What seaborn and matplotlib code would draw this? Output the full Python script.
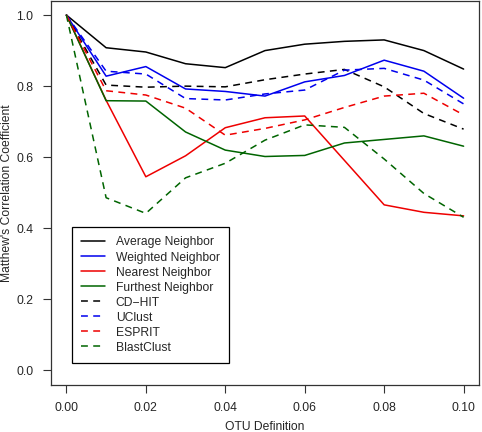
import matplotlib
matplotlib.use("Agg")
import matplotlib.pyplot as plt
import pandas as pd
import seaborn as sns

# OTU definition cutoffs
otu = [0.00, 0.01, 0.02, 0.03, 0.04, 0.05, 0.06, 0.07, 0.08, 0.09, 0.10]

average_neighbor = [1.0, 0.908, 0.896, 0.863, 0.852, 0.900, 0.918, 0.926, 0.930, 0.900, 0.848]
weighted_neighbor = [1.0, 0.828, 0.855, 0.792, 0.785, 0.772, 0.812, 0.830, 0.873, 0.842, 0.766]
nearest_neighbor = [1.0, 0.760, 0.545, 0.604, 0.683, 0.711, 0.716, 0.591, 0.466, 0.445, 0.435]
furthest_neighbor = [1.0, 0.759, 0.758, 0.671, 0.620, 0.602, 0.605, 0.640, 0.650, 0.660, 0.631]
cd_hit = [1.0, 0.803, 0.797, 0.800, 0.798, 0.818, 0.834, 0.847, 0.798, 0.723, 0.679]
uclust = [1.0, 0.842, 0.834, 0.765, 0.761, 0.778, 0.789, 0.845, 0.850, 0.817, 0.750]
esprit = [1.0, 0.787, 0.775, 0.738, 0.662, 0.681, 0.705, 0.740, 0.772, 0.780, 0.719]
blastclust = [1.0, 0.486, 0.442, 0.542, 0.583, 0.648, 0.691, 0.684, 0.595, 0.498, 0.431]

series = [
    ("Average Neighbor", average_neighbor, "black", "-"),
    ("Weighted Neighbor", weighted_neighbor, "#0000ee", "-"),
    ("Nearest Neighbor", nearest_neighbor, "#ee0000", "-"),
    ("Furthest Neighbor", furthest_neighbor, "#006400", "-"),
    ("CD-HIT", cd_hit, "black", "--"),
    ("UClust", uclust, "#0000ee", "--"),
    ("ESPRIT", esprit, "#ee0000", "--"),
    ("BlastClust", blastclust, "#006400", "--"),
]

sns.set_style("ticks")
plt.rcParams["font.family"] = ["Liberation Sans", "DejaVu Sans"]
plt.rcParams["font.size"] = 8.7

fig = plt.figure(figsize=(4.82, 4.32), dpi=100)
ax = fig.add_axes([0.1048, 0.1095, 0.8900, 0.8886])

for name, values, color, ls in series:
    df = pd.DataFrame({"otu": otu, "mcc": values})
    sns.lineplot(data=df, x="otu", y="mcc", ax=ax, color=color,
                 linewidth=1.1, label=name.replace("-", "\u2212"))
    if ls == "--":
        ax.lines[-1].set_dashes((4.5, 3.5))

ax.set_xlim(-0.004, 0.104)
ax.set_ylim(-0.04, 1.04)
ax.set_xticks([0.00, 0.02, 0.04, 0.06, 0.08, 0.10])
ax.set_xticklabels(["0.00", "0.02", "0.04", "0.06", "0.08", "0.10"])
ax.set_yticks([0.0, 0.2, 0.4, 0.6, 0.8, 1.0])
ax.set_yticklabels(["0.0", "0.2", "0.4", "0.6", "0.8", "1.0"])
ax.tick_params(direction="out", length=5.5, width=0.8, color="#333333",
               labelsize=8.7, pad=7)
for sp in ax.spines.values():
    sp.set_visible(True)
    sp.set_color("#333333")
    sp.set_linewidth(0.9)

ax.set_xlabel("OTU Definition", fontsize=8.7, labelpad=5)
ax.set_ylabel("Matthew's Correlation Coefficient", fontsize=8.7, labelpad=2)

leg = ax.legend(loc="lower left", bbox_to_anchor=(0.0508, 0.0573), borderaxespad=0,
                frameon=True, fancybox=False, fontsize=8.7, handlelength=1.96,
                handletextpad=0.88, labelspacing=0.25, borderpad=0.75)
leg.get_frame().set_edgecolor("black")
leg.get_frame().set_linewidth(0.9)
leg.get_frame().set_alpha(1)

fig.savefig("out.png", dpi=100)
